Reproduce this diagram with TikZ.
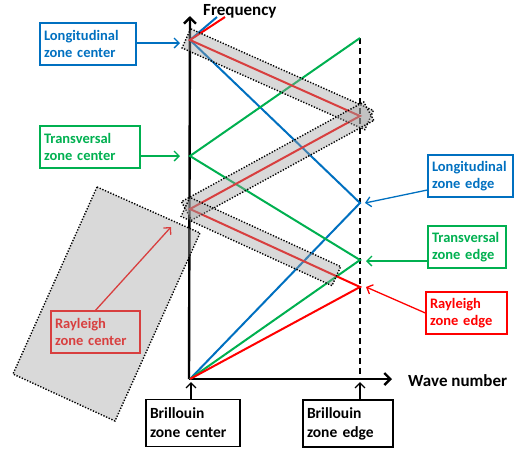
\documentclass[tikz,border=0pt]{standalone}
\usepackage{fontspec}
\setmainfont{Carlito}
\usetikzlibrary{arrows.meta,calc}
\definecolor{cblue}{RGB}{0,112,192}
\definecolor{cgreen}{RGB}{0,176,80}
\definecolor{cred}{RGB}{255,0,0}
\newcommand\mkband[4]{%
  \coordinate (bs) at ($(#1)!-#3!(#2)$);
  \coordinate (be) at ($(#2)!-#4!(#1)$);
  \draw[band] ($(bs)!10.5pt!90:(be)$) -- ($(bs)!10.5pt!-90:(be)$) -- ($(be)!10.5pt!90:(bs)$) -- ($(be)!10.5pt!-90:(bs)$) -- cycle;}
\begin{document}
\begin{tikzpicture}[x=1pt,y=-1pt,
  box/.style={draw, line width=1.3pt, align=left, inner xsep=4pt, inner ysep=3pt,
    minimum height=42pt, font=\bfseries\fontsize{14.5}{17}\selectfont},
  bbox/.style={box, minimum height=47pt, font=\bfseries\fontsize{15.5}{19}\selectfont},
  arr/.style={line width=1.3pt, -{Straight Barb[length=5pt,width=10pt]}},
  axis/.style={line width=2.4pt, -{Straight Barb[length=6pt,width=12pt]}},
  curve/.style={line width=2pt},
  band/.style={fill=gray!75, fill opacity=0.4, draw=black, draw opacity=1,
    line width=1.4pt, dash pattern=on 1.3pt off 1.6pt},
  lbl/.style={font=\bfseries\fontsize{17}{20}\selectfont, inner sep=0pt}]
\useasboundingbox (0,0) rectangle (515,448);
% key points
\coordinate (O) at (190,379);
\coordinate (Ytop) at (190,16);
\coordinate (Xend) at (392,379);
\coordinate (LE) at (360,203);
\coordinate (LC) at (190,40);
\coordinate (LT) at (217,17);
\coordinate (TE) at (360,260);
\coordinate (TC) at (190,156);
\coordinate (TT) at (360,38);
\coordinate (RE) at (360,287);
\coordinate (RC) at (190,209);
\coordinate (RT) at (360,116);
\coordinate (R2) at (190,40);
\coordinate (RU) at (225,17);
\coordinate (Dtop) at (360,38);
\coordinate (Dbot) at (360,379);
% axes
\draw[axis] (189,379) -- (Ytop);
\draw[axis] (189,379) -- (Xend);
\draw[line width=1.3pt, dash pattern=on 6pt off 4pt] (Dtop) -- (Dbot);
\node[lbl, anchor=west] (freq) at (203,11) {Frequency};
\node[lbl, anchor=west] (wave) at (408,381) {Wave number};
% dispersion lines
\draw[curve, cblue] (O) -- (LE) -- (LC) -- (LT);
\draw[curve, cgreen] (O) -- (TE) -- (TC) -- (TT);
\draw[curve, cred] (O) -- (RE) -- (RC) -- (RT) -- (R2) -- (RU);
% boxes
\node[box, cblue, text width=88pt] (LZC) at (88,44) {Longitudinal\\zone center};
\node[box, cgreen, text width=92pt] (TZC) at (90,147) {Transversal\\zone center};
\node[box, cblue, text width=77pt] (LZE) at (470.5,176) {Longitudinal\\zone edge};
\node[box, cgreen, text width=70pt] (TZE) at (467,247) {Transversal\\zone edge};
\node[box, cred, text width=73pt] (RZE) at (466.5,313) {Rayleigh\\zone edge};
\node[box, cred, text width=81pt] (RZC) at (95.5,332) {Rayleigh\\zone center};
\node[bbox, text width=86pt] (BZC) at (193,423) {Brillouin\\zone center};
\node[bbox, text width=82pt] (BZE) at (348,423.5) {Brillouin\\zone edge};
% arrow targets
\coordinate (lzcT) at (180,43);
\coordinate (tzcT) at (180,156);
\coordinate (lzeT) at (365,203);
\coordinate (tzeT) at (366,261);
\coordinate (rzeT) at (366,287);
\coordinate (rzcT) at (171,227);
\coordinate (bzcT) at (191,382);
\coordinate (bzeT) at (360,382);
\draw[arr, cblue] (LZC.east |- lzcT) -- (lzcT);
\draw[arr, cgreen] (TZC.east |- tzcT) -- (tzcT);
\draw[arr, cblue] ($(LZE.west)+(0,14)$) -- (lzeT);
\draw[arr, cgreen] (TZE.west |- tzeT) -- (tzeT);
\draw[arr, cred] (RZE.west) -- (rzeT);
\draw[arr, cred] (RZC.north) -- (rzcT);
\draw[arr, black] (BZC.north -| bzcT) -- (bzcT);
\draw[arr, black] (BZE.north -| bzeT) -- (bzeT);
% shaded bands
\mkband{R2}{RT}{4pt}{10pt}
\mkband{RT}{RC}{10pt}{4pt}
\coordinate (Cend) at ($(RC)!161pt!(RE)$);
\mkband{RC}{Cend}{5pt}{0pt}
\draw[band] (97,187) -- (200,233) -- (115,421) -- (13,374) -- cycle;
\end{tikzpicture}
\end{document}
